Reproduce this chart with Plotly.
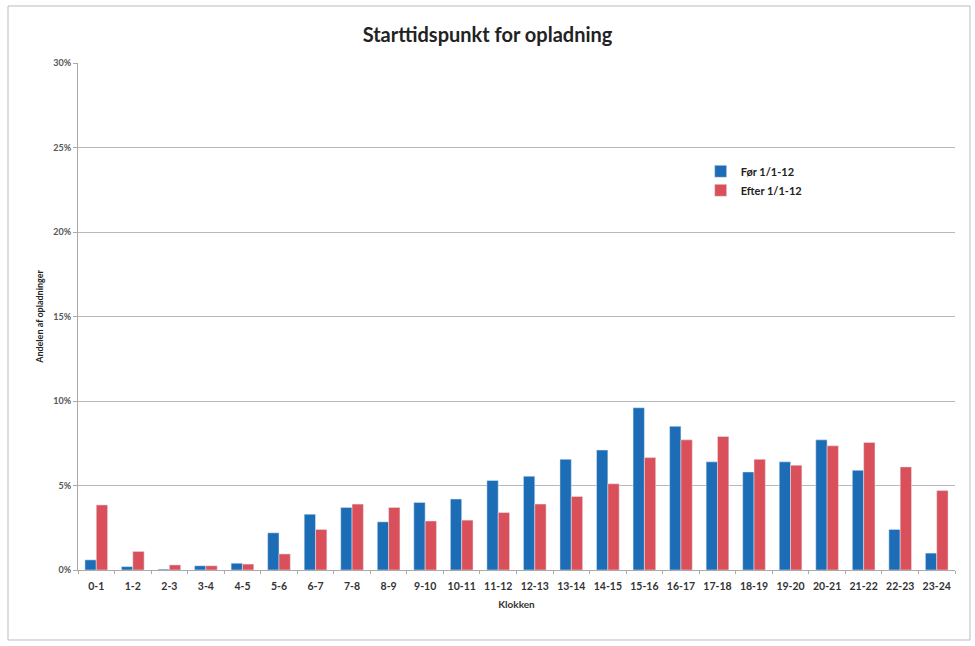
import plotly.graph_objects as go

categories = ["0-1","1-2","2-3","3-4","4-5","5-6","6-7","7-8","8-9","9-10","10-11","11-12",
              "12-13","13-14","14-15","15-16","16-17","17-18","18-19","19-20","20-21","21-22","22-23","23-24"]
foer = [0.6,0.2,0.05,0.25,0.4,2.2,3.3,3.7,2.85,4.0,4.2,5.3,5.55,6.55,7.1,9.6,8.5,6.4,5.8,6.4,7.7,5.9,2.4,1.0]
efter = [3.85,1.1,0.3,0.25,0.35,0.95,2.4,3.9,3.7,2.9,2.95,3.4,3.9,4.35,5.1,6.65,7.7,7.9,6.55,6.2,7.35,7.55,6.1,4.7]
yticks = [0,5,10,15,20,25,30]
yticklabels = ["0%","5%","10%","15%","20%","25%","30%"]

FONT = "Lato"
fig = go.Figure()
fig.add_trace(go.Bar(x=categories, y=foer, name="<b>Før 1/1-12</b>", marker=dict(color="#1c6db5")))
fig.add_trace(go.Bar(x=categories, y=efter, name="<b>Efter 1/1-12</b>", marker=dict(color="#d9505a")))

fig.update_layout(
    width=975, height=646,
    paper_bgcolor="white", plot_bgcolor="white",
    margin=dict(l=78, r=20, t=63, b=76),
    barmode="group", bargap=0.38, bargroupgap=0,
    title=dict(text="<b>Starttidspunkt for opladning</b>", x=0.5, xanchor="center",
               y=1-35/646, yanchor="middle", font=dict(family=FONT, size=20, color="#222")),
    font=dict(family=FONT, color="#333"),
    legend=dict(x=0.71, y=0.815, xanchor="left", yanchor="top", bgcolor="rgba(0,0,0,0)",
                font=dict(family=FONT, size=11, color="#222"), itemwidth=30),
    xaxis=dict(type="category", showgrid=False, showline=True, linecolor="#aaa", ticks="outside", ticklen=3,
               tickcolor="#aaa", tickson="boundaries", ticklabelstandoff=6, tickangle=0,
               tickvals=categories, ticktext=["<b>%s</b>" % c for c in categories],
               tickfont=dict(family=FONT, size=10.5, color="#333"),
               title=dict(text="<b>Klokken</b>", font=dict(family=FONT, size=10, color="#333"), standoff=10)),
    yaxis=dict(range=[0,30], tickvals=yticks, ticktext=["<b>%s</b>" % t for t in yticklabels],
               showgrid=True, gridcolor="#b8b8b8",
               showline=True, linecolor="#aaa", ticks="outside", ticklen=4, tickcolor="#aaa",
               zeroline=False, tickfont=dict(family=FONT, size=9, color="#555"),
               title=dict(text="<b>Andelen af opladninger</b>", font=dict(family=FONT, size=9, color="#222"), standoff=8)),
)
fig.add_shape(type="rect", xref="paper", yref="paper", x0=-70/877, x1=1+15/877, y0=-70/507, y1=1+57/507,
              line=dict(color="#bbb", width=1), fillcolor="rgba(0,0,0,0)")
fig.write_html("out.html")
